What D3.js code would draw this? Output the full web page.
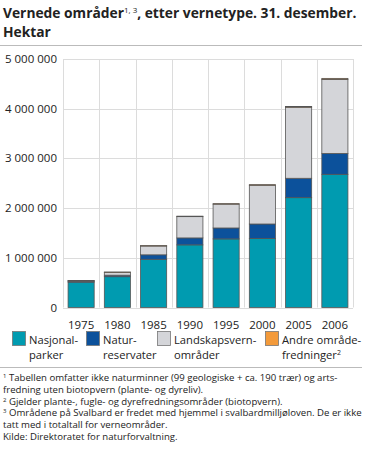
<!DOCTYPE html>
<html><head><meta charset="utf-8">
<script src="https://cdn.jsdelivr.net/npm/d3@7"></script>
<style>body{margin:0;background:#fff;}svg{display:block;font-family:"Open Sans",sans-serif;}</style>
</head><body><svg id="c" width="366" height="456"></svg>
<script>
const years = ["1975","1980","1985","1990","1995","2000","2005","2006"];
const nasjonalparker = [510000, 620000, 970000, 1260000, 1380000, 1390000, 2210000, 2680000];
const naturreservater = [20000, 30000, 90000, 140000, 220000, 290000, 390000, 420000];
const landskapsvern = [10000, 60000, 180000, 430000, 480000, 780000, 1430000, 1490000];
const andre = [3000, 3000, 5000, 8000, 10000, 12000, 15000, 20000];
const yTicks = [0, 1000000, 2000000, 3000000, 4000000, 5000000];
const seriesNames = ["Nasjonalparker","Naturreservater","Landskapsvernområder","Andre områdefredninger"];
const legendLines = [["Nasjonal-","parker"],["Natur-","reservater"],["Landskapsvern-","områder"],["Andre område-","fredninger"]];
const colors = ["#009bb0","#0c519b","#d4d5d9","#f39a3a"];
const footnotes = [
 ["1"," Tabellen omfatter ikke naturminner (99 geologiske + ca. 190 trær) og arts-"],
 [null,"fredning uten biotopvern (plante- og dyreliv)."],
 ["2"," Gjelder plante-, fugle- og dyrefredningsområder (biotopvern)."],
 ["3"," Områdene på Svalbard er fredet med hjemmel i svalbardmilljøloven. De er ikke"],
 [null,"tatt med i totaltall for verneområder."],
 [null,"Kilde: Direktoratet for naturforvaltning."]
];

const svg = d3.select("#c");
const txt = "#222";
// title
const t1 = svg.append("text").attr("x",3).attr("y",18).attr("font-size",13.8).attr("font-weight","bold").attr("fill",txt);
t1.append("tspan").text("Vernede områder");
t1.append("tspan").attr("font-size",8).attr("dy",-5).attr("font-weight","normal").text("1, 3");
t1.append("tspan").attr("dy",5).text(", etter vernetype. 31. desember.");
svg.append("text").attr("x",3).attr("y",37).attr("font-size",13.8).attr("font-weight","bold").attr("fill",txt).text("Hektar");
svg.append("line").attr("x1",0).attr("x2",362).attr("y1",45.5).attr("y2",45.5).attr("stroke","#bbb");

const x0=63, x1=353, yTop=59, yBot=307.5;
const x = d3.scaleBand().domain(years).range([x0,x1]).paddingInner(0.28).paddingOuter(0.14);
const y = d3.scaleLinear().domain([0,5000000]).range([yBot,yTop]);

// grid
const g = svg.append("g");
g.selectAll(".h").data(yTicks).join("line").attr("x1",x0).attr("x2",x1)
 .attr("y1",d=>Math.round(y(d))+0.5).attr("y2",d=>Math.round(y(d))+0.5).attr("stroke","#dcdcdc");
const vlines = d3.range(years.length+1).map(i=>x0+i*(x1-x0)/years.length);
g.selectAll(".v").data(vlines).join("line").attr("x1",d=>Math.round(d)+0.5).attr("x2",d=>Math.round(d)+0.5)
 .attr("y1",yTop).attr("y2",yBot).attr("stroke","#dcdcdc");

// y labels
svg.append("g").selectAll("text").data(yTicks).join("text")
 .attr("x",57).attr("y",d=>y(d)+4).attr("text-anchor","end").attr("font-size",11.5).attr("fill",txt)
 .text(d=>d3.format(",")(d).replace(/,/g," "));

// stack
const data = years.map((yr,i)=>({year:yr, s0:nasjonalparker[i], s1:naturreservater[i], s2:landskapsvern[i], s3:andre[i]}));
const stack = d3.stack().keys(["s0","s1","s2","s3"])(data);
svg.append("g").selectAll("g").data(stack).join("g").attr("fill",(d,i)=>colors[i])
 .selectAll("rect").data(d=>d).join("rect")
 .attr("x",d=>x(d.data.year)).attr("width",x.bandwidth())
 .attr("y",d=>y(d[1])).attr("height",d=>Math.max(0.5,y(d[0])-y(d[1])))
 .attr("stroke","#555").attr("stroke-width",0.8);

// x labels
svg.append("g").selectAll("text").data(years).join("text")
 .attr("x",d=>x(d)+x.bandwidth()/2).attr("y",329).attr("text-anchor","middle").attr("font-size",11.5).attr("fill",txt).text(d=>d);

// legend
const lx=[12,86,157,265];
const lg = svg.append("g");
seriesNames.forEach((n,i)=>{
  lg.append("rect").attr("x",lx[i]+0.5).attr("y",331.5).attr("width",13).attr("height",14).attr("fill",colors[i]).attr("stroke","#777").attr("stroke-width",0.8);
  const tx = lg.append("text").attr("x",lx[i]+17).attr("y",344).attr("font-size",11.2).attr("fill",txt);
  tx.append("tspan").text(legendLines[i][0]);
  const t2 = lg.append("text").attr("x",lx[i]+17).attr("y",359).attr("font-size",11.2).attr("fill",txt);
  t2.append("tspan").text(legendLines[i][1]);
  if(i===3) t2.append("tspan").attr("font-size",7).attr("dy",-4).text("2");
});
svg.append("line").attr("x1",0).attr("x2",362).attr("y1",367.5).attr("y2",367.5).attr("stroke","#bbb");

// footnotes
footnotes.forEach((f,i)=>{
  const t = svg.append("text").attr("x",3).attr("y",381+i*11.8).attr("font-size",9.6).attr("fill",txt);
  if(f[0]) { t.append("tspan").attr("font-size",6).attr("dy",-3).text(f[0]); t.append("tspan").attr("dy",3).text(f[1]); }
  else t.text(f[1]);
});
</script></body></html>
